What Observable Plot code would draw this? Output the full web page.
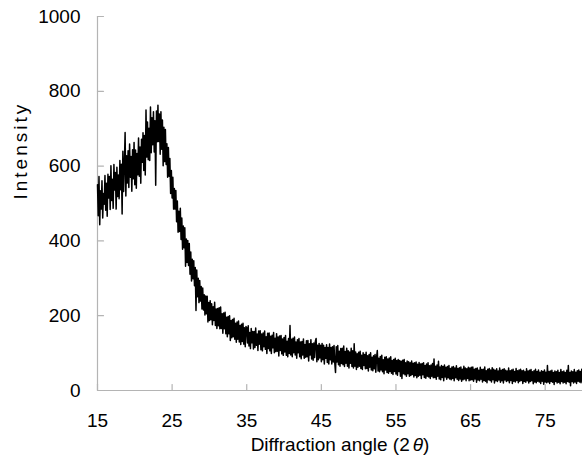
<!DOCTYPE html>
<html>
<head>
<meta charset="utf-8">
<script src="https://cdn.jsdelivr.net/npm/d3@7"></script>
<script src="https://cdn.jsdelivr.net/npm/@observablehq/plot@0.6"></script>
<style>
  html, body { margin: 0; padding: 0; background: #fff; }
</style>
</head>
<body>
<div id="chart"></div>
<script>
// Diffraction angle grid (2θ, degrees)
const angleStep = 0.1;

// Intensity readings, one block per angle range (start angle given with each block)
const intensity15to25 = [
  550,467,572,443,534,485,561,461,527,498,
  575,482,554,466,578,515,572,484,601,508,
  565,487,604,536,583,485,597,519,576,513,
  615,537,605,472,640,532,605,690,520,628,
  555,641,543,659,570,626,533,644,566,663,
  550,643,541,634,577,675,573,651,554,672,
  610,689,588,682,576,750,624,718,617,701,
  615,758,636,729,657,745,638,721,549,747,
  665,763,666,739,632,745,645,723,601,704,
  612,698,604,660,570,650,573,620,527,588
];
const intensity25to35 = [
  515,570,485,540,485,535,451,507,423,479,
  425,487,404,461,378,440,382,435,332,405,
  342,401,334,393,311,370,293,351,299,347,
  280,329,214,322,251,300,235,294,239,278,
  218,274,215,256,202,253,205,252,183,235,
  187,240,189,232,176,224,187,236,174,218,
  166,219,173,221,165,223,166,205,153,207,
  165,209,152,196,144,198,152,200,134,187,
  141,190,144,193,137,180,129,183,137,186,
  130,174,123,177,131,180,124,168,117,171
];
const intensity35to50 = [
  168,127,173,119,155,112,166,128,158,111,
  158,115,167,121,151,107,159,124,160,109,
  151,106,154,117,159,110,144,99,153,112,
  154,106,145,99,148,114,155,101,140,104,
  152,105,143,92,146,107,147,98,138,94,
  142,103,147,94,132,90,139,99,174,95,
  137,90,140,101,143,95,130,86,136,101,
  139,90,130,85,131,95,138,86,123,89,
  133,90,134,79,125,95,136,84,125,81,
  127,88,132,139,77,121,82,126,87,121,
  77,126,82,121,71,115,86,122,75,115,
  71,124,82,115,71,117,76,120,73,48,
  117,76,120,69,105,65,112,72,113,69,
  119,64,104,73,113,65,106,60,103,73,
  113,64,106,60,125,65,103,56,98,62
];
const intensity50to65 = [
  102,65,105,59,94,56,101,67,96,58,
  102,59,93,52,96,62,101,55,89,53,
  93,58,96,49,89,107,52,86,50,91,
  55,94,50,82,45,89,55,90,48,84,
  46,87,51,90,46,80,43,83,51,86,
  44,80,41,83,51,80,38,78,32,81,
  45,83,42,74,38,79,45,77,38,74,
  40,79,43,73,36,74,40,76,34,70,
  38,75,41,71,32,72,42,74,35,67,
  33,71,38,74,36,66,32,68,38,72,
  34,84,35,65,30,68,38,78,31,63,
  29,67,35,64,26,68,36,62,30,64,
  34,67,31,59,29,63,32,64,26,60,
  34,66,30,59,27,61,31,63,25,57,
  29,65,31,60,26,58,32,62,26,60
];
const intensity65to80 = [
  28,62,29,63,25,57,31,59,22,60,
  28,54,26,62,30,56,23,57,27,63,
  25,53,21,57,29,59,27,55,23,61,
  29,57,20,54,26,58,24,52,28,60,
  22,54,26,56,20,58,28,54,24,52,
  26,60,21,53,27,55,19,57,25,51,
  23,59,27,53,21,55,25,57,27,53,
  19,54,24,50,22,58,26,52,20,54,
  24,56,26,50,18,53,23,57,21,51,
  25,55,23,49,19,53,25,51,17,55,
  23,49,21,67,23,51,19,52,24,54,
  22,48,16,52,24,50,20,54,22,48,
  18,56,24,50,20,52,22,48,18,54,
  24,67,22,48,13,52,24,50,20,56,
  23,49,19,53,25,55,23,51,21,57,
  25
];

const xTicks = [15, 25, 35, 45, 55, 65, 75];
const yTicks = [0, 200, 400, 600, 800, 1000];
const xDomain = [15, 80];
const yDomain = [0, 1000];
const xTitle = "Diffraction angle (2θ)";
const yTitle = "Intensity";

const blocks = [
  [15, intensity15to25],
  [25, intensity25to35],
  [35, intensity35to50],
  [50, intensity50to65],
  [65, intensity65to80]
];
const data = blocks.flatMap(([start, vals]) =>
  vals.map((v, i) => ({ angle: +(start + i * angleStep).toFixed(2), intensity: v }))
);

const axisGray = "#b4b4b4";
const tickShape = { draw(context, l) { context.moveTo(0, 0); context.lineTo(0, -l); } };
const font = "'Liberation Sans', Arial, Helvetica, sans-serif";

const svg = Plot.plot({
  width: 582,
  height: 463,
  marginLeft: 97,
  marginRight: 0,
  marginTop: 16,
  marginBottom: 73,
  style: { fontFamily: font, color: "#000", background: "#fff", overflow: "visible" },
  x: { domain: xDomain, label: null },
  y: { domain: yDomain, label: null },
  marks: [
    Plot.ruleY([yDomain[0]], { stroke: axisGray, strokeWidth: 1.2 }),
    Plot.ruleX([xDomain[0]], { stroke: axisGray, strokeWidth: 1.2 }),
    Plot.vector(xTicks, { x: d => d, y: yDomain[0], length: 6, anchor: "start", shape: tickShape, stroke: axisGray, strokeWidth: 1.2 }),
    Plot.vector(yTicks, { x: xDomain[0], y: d => d, length: 6, rotate: 90, anchor: "start", shape: tickShape, stroke: axisGray, strokeWidth: 1.2 }),
    Plot.axisX(xTicks, { tickSize: 0, tickPadding: 23, fontSize: 19, tickFormat: d3.format("d") }),
    Plot.axisY(yTicks, { tickSize: 0, tickPadding: 17, fontSize: 19, tickFormat: d3.format("d") }),
    Plot.line(data, { x: "angle", y: "intensity", stroke: "#000", strokeWidth: 1.5 }),
    Plot.text([xTitle], { text: d => d, frameAnchor: "bottom", dy: 60, fontSize: 19 }),
    Plot.text([yTitle], { text: d => d, frameAnchor: "left", rotate: -90, dx: -77, dy: -4, fontSize: 19 })
  ]
});

// Styling of titles: letter-spaced y title, italic theta in x title
d3.select(svg).selectAll("text").each(function () {
  const t = d3.select(this);
  const s = this.textContent;
  if (s === yTitle) {
    t.attr("letter-spacing", 3);
  } else if (s === xTitle) {
    const parts = xTitle.split("θ");
    t.text(null);
    t.append("tspan").text(parts[0]);
    t.append("tspan").attr("font-style", "italic").attr("dx", 3).text("θ");
    t.append("tspan").text(parts[1]);
  }
});

document.getElementById("chart").appendChild(svg);
</script>
</body>
</html>
